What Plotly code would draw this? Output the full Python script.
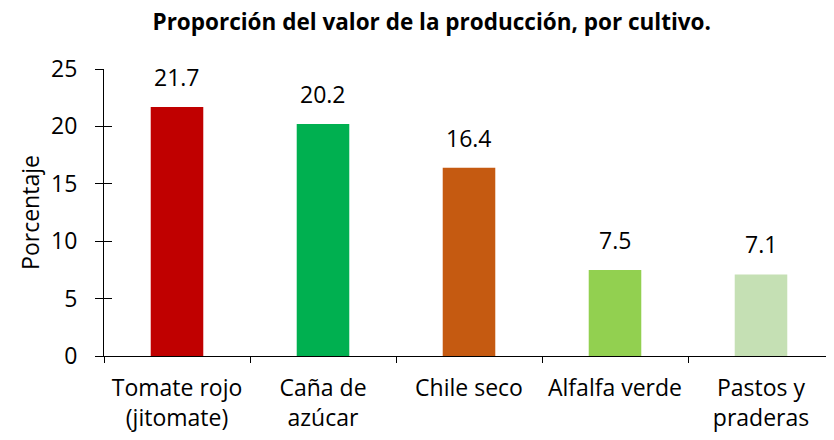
import plotly.graph_objects as go

categories = ["Tomate rojo<br>(jitomate)", "Caña de<br>azúcar", "Chile seco", "Alfalfa verde", "Pastos y<br>praderas"]
values = [21.7, 20.2, 16.4, 7.5, 7.1]
labels = ["21.7", "20.2", "16.4", "7.5", "7.1"]
colors = ["#C00000", "#00B050", "#C55A11", "#92D050", "#C5E0B4"]
y_ticks = [0, 5, 10, 15, 20, 25]

FONT = "Open Sans, sans-serif"
FS = 23

fig = go.Figure()
fig.add_trace(go.Bar(x=categories, y=values, marker_color=colors, marker_line_width=0,
                     width=0.36, showlegend=False, hoverinfo="skip"))
# invisible trace on overlay axis to carry inner tick marks
fig.add_trace(go.Scatter(x=categories, y=values, yaxis="y2", mode="markers",
                         marker=dict(opacity=0), showlegend=False, hoverinfo="skip"))

for c, v, t in zip(categories, values, labels):
    fig.add_annotation(x=c, y=v, text=t, showarrow=False, yanchor="bottom", yshift=12,
                       font=dict(family=FONT, size=FS, color="#000"))

# page body has an 8px margin, so the figure is sized 8px smaller
fig.update_layout(
    width=826, height=432,
    margin=dict(l=96, r=0, t=61, b=84, autoexpand=False),
    plot_bgcolor="white", paper_bgcolor="white",
    title=dict(text="<b>Proporción del valor de la producción, por cultivo.</b>",
               x=0.513, xanchor="center", y=0.968, yanchor="middle",
               font=dict(family=FONT, size=22.5, color="#000")),
    font=dict(family=FONT, size=FS, color="#000"),
    xaxis=dict(showline=True, linecolor="#000", linewidth=1, ticks="outside", ticklen=6,
               tickcolor="#000", tickson="boundaries", showgrid=False, automargin=False,
               ticklabelstandoff=11,
               tickfont=dict(family=FONT, size=FS, color="#000")),
    yaxis=dict(range=[0, 25], tickvals=y_ticks, showline=True, linecolor="#000", linewidth=1,
               ticks="outside", ticklen=8, tickcolor="#000", showgrid=False, zeroline=False,
               ticklabelstandoff=13, automargin=False,
               title=dict(text="Porcentaje", font=dict(family=FONT, size=FS, color="#000"), standoff=5),
               tickfont=dict(family=FONT, size=FS, color="#000")),
    yaxis2=dict(range=[0, 25], tickvals=y_ticks, overlaying="y", side="left", ticks="inside",
                ticklen=8, tickcolor="#000", showticklabels=False, showgrid=False,
                zeroline=False, showline=False, automargin=False),
)

fig.write_html("out.html")
